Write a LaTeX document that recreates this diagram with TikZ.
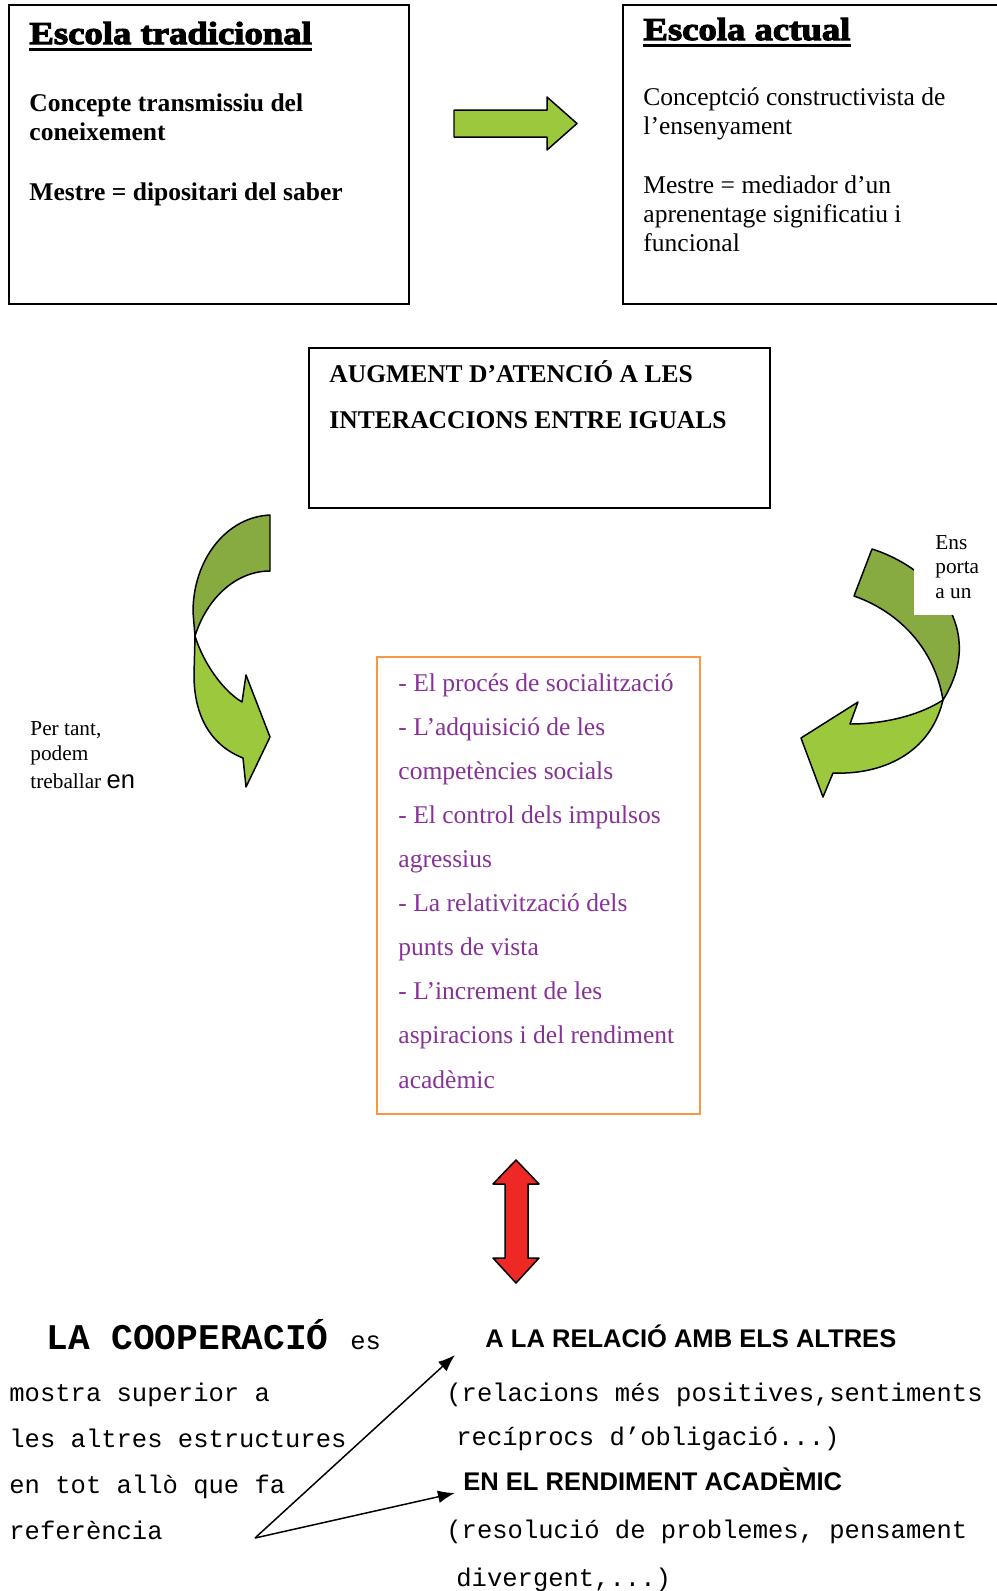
\documentclass[tikz,border=0pt]{standalone}
\usepackage{fontspec}
\setmainfont{Liberation Serif}
\setsansfont{Liberation Sans}
\setmonofont{Liberation Mono}
\newfontfamily\heavyfont[FakeBold=3.5, FakeStretch=1.15]{Liberation Serif Bold}
\usepackage{xcolor}
\usetikzlibrary{arrows.meta, calc, positioning}

\definecolor{leafgreen}{RGB}{155,200,60}
\definecolor{mossgreen}{RGB}{135,170,65}
\definecolor{listpurple}{RGB}{135,50,150}
\definecolor{boxorange}{RGB}{247,150,70}
\definecolor{arrowred}{RGB}{238,40,36}

\tikzset{
    panel/.style={draw, line width=0.95pt},
    txt/.style={anchor=base west, inner sep=0pt, align=left, font=\fontsize{12}{13.6}\selectfont},
    heading/.style={txt, font=\heavyfont\fontsize{15}{18}\selectfont},
    band/.style={draw, line width=0.7pt, line join=round},
    pointer/.style={-{Latex[length=8pt, width=6pt]}, line width=0.7pt}
}

\begin{document}
\begin{tikzpicture}[x=0.47pt, y=-0.47pt]
                        \useasboundingbox (0,0) rectangle (997,1591);
                        \draw[panel] (9,5) rectangle (409,304);
                        \draw[panel] (997,5) -- (623,5) -- (623,304) -- (997,304);
                        \draw[panel] (309,348) rectangle (770,508);
                        \draw[panel, line width=0.8pt, boxorange] (377,657) rectangle (700,1114);

                        \node[heading] (tradtitle) at (29,44) {Escola tradicional};
                        \node[heading] (actualtitle) at (643,40) {Escola actual};
                        \draw[line width=1pt] ([yshift=-2.6pt]tradtitle.base west) -- ([yshift=-2.6pt]tradtitle.base east);
                        \draw[line width=1pt] ([yshift=-2.6pt]actualtitle.base west) -- ([yshift=-2.6pt]actualtitle.base east);
                        \node[txt, font=\bfseries\fontsize{12}{13.6}\selectfont] (tradconcept) at (29,140) {Concepte transmissiu del\\coneixement};
                        \node[txt, font=\bfseries\fontsize{12}{13.6}\selectfont] (tradmestre) at (29,200) {Mestre = dipositari del saber};
                        \node[txt] (actualconcept) at (643,134) {Conceptció constructivista de\\l’ensenyament};
                        \node[txt] (actualmestre) at (643,251) {Mestre = mediador d’un\\aprenentage significatiu i\\funcional};

                        \draw[band, fill=leafgreen] (454,110) -- (547,110) -- (547,97) -- (577,123.5) -- (547,150) -- (547,137) -- (454,137) -- cycle;

                        \node[txt, font=\bfseries\fontsize{12}{21.2}\selectfont] (augment) at (329,428) {AUGMENT D’ATENCIÓ A LES\\INTERACCIONS ENTRE IGUALS};

                        \draw[band, fill=mossgreen] (270,515) .. controls (226,517) and (193,560) .. (193,612) -- (195,636)
                            .. controls (207,598) and (236,571) .. (270,571) -- cycle;
                        \draw[band, fill=leafgreen] (195,636) .. controls (203,662) and (222,690) .. (242,702) -- (246,675) -- (270,737)
                            -- (246,787) -- (243,758) .. controls (210,745) and (194,715) .. (194,675) -- cycle;

                        \draw[band, fill=mossgreen] (872,549) .. controls (932,568) and (988,628) .. (943,700)
                            .. controls (935,650) and (900,612) .. (854,596) -- cycle;
                        \draw[band, fill=leafgreen] (943,700) .. controls (930,755) and (880,775) .. (833,773) -- (823,797) -- (801,738)
                            -- (858,702) -- (850,724) .. controls (885,724) and (920,715) .. cycle;
                        \fill[white] (914,520) rectangle (990,615);
                        \node[txt, font=\fontsize{10}{11.3}\selectfont] (ensporta) at (935,598) {Ens\\porta\\a un};

                        \node[txt, font=\fontsize{10}{12}\selectfont] (pertant) at (30,788) {Per tant,\\podem\\[0.8pt]treballar {\sffamily\fontsize{12}{12}\selectfont en}};

                        \node[txt, text=listpurple, font=\fontsize{12}{20.7}\selectfont] (efectes) at (398,1088)
                            {- El procés de socialització\\- L’adquisició de les\\competències socials\\- El control dels impulsos\\agressius\\- La relativització dels\\punts de vista\\- L’increment de les\\aspiracions i del rendiment\\acadèmic};

                        \draw[band, fill=arrowred] (516,1160) -- (539,1184) -- (528,1184) -- (528,1258) -- (539,1258) -- (516,1283)
                            -- (493,1258) -- (505,1258) -- (505,1184) -- (493,1184) -- cycle;

                        \node[txt, font=\ttfamily\fontsize{12}{13.6}\selectfont] (cooperacio) at (46,1349) {{\bfseries\fontsize{17}{20}\selectfont LA COOPERACIÓ }es};
                        \node[txt, font=\ttfamily\fontsize{12}{21.5}\selectfont] (superior) at (9,1539) {mostra superior a\\les altres estructures\\en tot allò que fa\\referència};
                        \node[txt, font=\sffamily\bfseries\fontsize{12}{13.6}\selectfont] (relacio) at (485,1347) {A LA RELACIÓ AMB ELS ALTRES};
                        \node[txt, font=\ttfamily\fontsize{12}{20.3}\selectfont] (relacions) at (446,1445) {(relacions més positives,sentiments\\\hspace*{4.7pt}recíprocs d’obligació...)};
                        \node[txt, font=\sffamily\bfseries\fontsize{12}{13.6}\selectfont] (rendiment) at (463,1490) {EN EL RENDIMENT ACADÈMIC};
                        \node[txt, font=\ttfamily\fontsize{12}{22.2}\selectfont] (resolucio) at (446,1586) {(resolució de problemes, pensament\\\hspace*{4.7pt}divergent,...)};

                        \coordinate (fork) at (255,1538);
                        \coordinate (uptip) at (455,1355);
                        \coordinate (downtip) at (455,1493);
                        \draw[pointer] (fork) -- (uptip);
                        \draw[pointer] (fork) -- (downtip);
                    \end{tikzpicture}
\end{document}
